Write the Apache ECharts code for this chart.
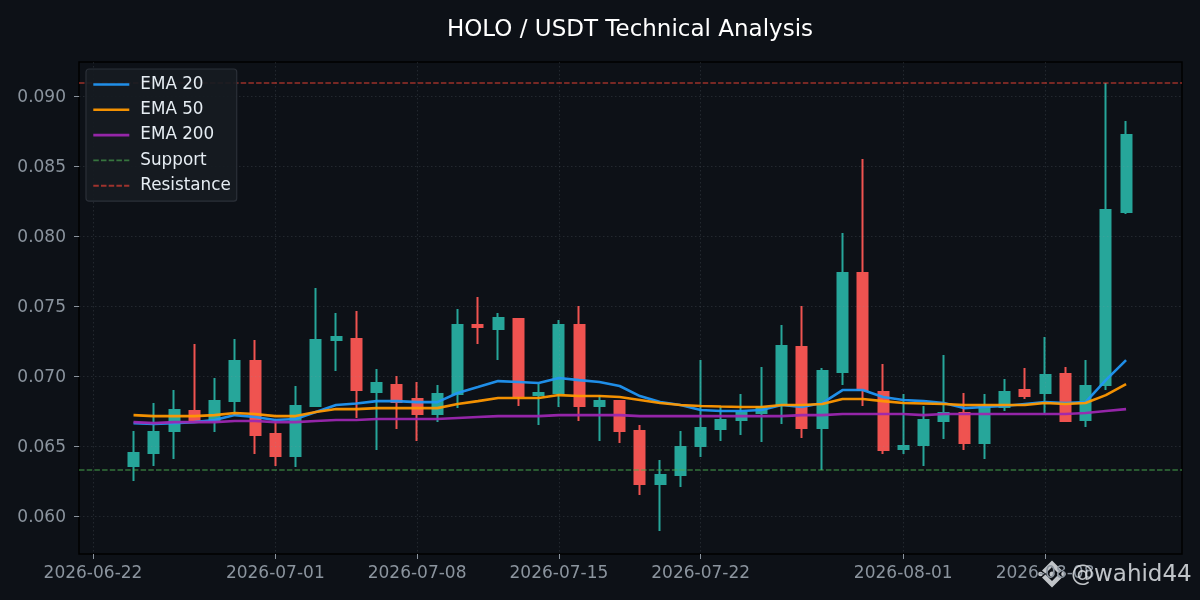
<!DOCTYPE html>
<html><head><meta charset="utf-8">
<style>html,body{margin:0;padding:0;background:#0d1117}#c{width:1200px;height:600px}</style>
<script src="https://cdn.jsdelivr.net/npm/echarts@6/dist/echarts.min.js"></script>
</head><body><div id="c"></div>
<script>
const dates = ['2026-06-24','2026-06-25','2026-06-26','2026-06-27','2026-06-28','2026-06-29','2026-06-30','2026-07-01','2026-07-02','2026-07-03',
'2026-07-04','2026-07-05','2026-07-06','2026-07-07','2026-07-08','2026-07-09','2026-07-10','2026-07-11','2026-07-12','2026-07-13',
'2026-07-14','2026-07-15','2026-07-16','2026-07-17','2026-07-18','2026-07-19','2026-07-20','2026-07-21','2026-07-22','2026-07-23',
'2026-07-24','2026-07-25','2026-07-26','2026-07-27','2026-07-28','2026-07-29','2026-07-30','2026-07-31','2026-08-01','2026-08-02',
'2026-08-03','2026-08-04','2026-08-05','2026-08-06','2026-08-07','2026-08-08','2026-08-09','2026-08-10','2026-08-11','2026-08-12'];
const open = [.06357,.06450,.06607,.06750,.06679,.06821,.07107,.06586,.06429,.06786,
.07257,.07264,.06886,.06936,.06836,.06729,.06871,.07364,.07336,.07407,
.06864,.06879,.07364,.06786,.06821,.06607,.06229,.06293,.06500,.06621,
.06686,.06736,.06793,.07207,.06629,.07029,.07736,.06886,.06479,.06507,
.06679,.06736,.06521,.06779,.06900,.06879,.07014,.06686,.06936,.08171];
const close = [.06450,.06600,.06757,.06671,.06821,.07107,.06579,.06429,.06786,.07257,
.07279,.06900,.06950,.06814,.06729,.06871,.07364,.07350,.07414,.06857,
.06879,.07364,.06786,.06821,.06607,.06229,.06293,.06493,.06629,.06686,
.06736,.06779,.07214,.06629,.07036,.07736,.06900,.06471,.06500,.06686,
.06736,.06521,.06779,.06886,.06857,.07007,.06679,.06929,.08186,.08721];
const low = [.06250,.06357,.06407,.06664,.06600,.06721,.06443,.06357,.06350,.06779,
.07036,.06700,.06471,.06621,.06536,.06671,.06771,.07229,.07114,.06786,
.06650,.06779,.06679,.06536,.06521,.06150,.05893,.06207,.06421,.06536,
.06579,.06529,.06657,.06557,.06329,.06936,.06786,.06443,.06443,.06357,
.06550,.06471,.06407,.06750,.06836,.06736,.06671,.06636,.06900,.08157];
const high = [.06607,.06807,.06900,.07229,.06986,.07264,.07257,.06686,.06929,.07629,
.07450,.07464,.07050,.07000,.06957,.06936,.07479,.07564,.07450,.07407,
.06943,.07400,.07500,.06864,.06829,.06650,.06400,.06607,.07114,.06779,
.06871,.07064,.07364,.07500,.07057,.08021,.08550,.07086,.06871,.06786,
.07150,.06879,.06871,.06979,.07057,.07279,.07064,.07114,.09093,.08821];
const ema20 = [.06664,.06657,.06664,.06671,.06686,.06721,.06707,.06686,.06693,.06743,
.06793,.06804,.06821,.06821,.06814,.06814,.06879,.06921,.06964,.06957,
.06950,.06986,.06971,.06957,.06929,.06857,.06814,.06793,.06757,.06750,
.06750,.06757,.06793,.06779,.06807,.06900,.06900,.06850,.06829,.06821,
.06807,.06771,.06779,.06786,.06800,.06814,.06807,.06814,.06971,.07114];
const ema50 = [.06721,.06714,.06714,.06714,.06721,.06736,.06729,.06714,.06714,.06743,
.06764,.06764,.06771,.06771,.06771,.06771,.06800,.06821,.06843,.06843,
.06843,.06864,.06857,.06857,.06850,.06829,.06807,.06793,.06786,.06782,
.06779,.06779,.06793,.06793,.06800,.06836,.06836,.06821,.06807,.06804,
.06800,.06793,.06793,.06793,.06793,.06807,.06800,.06807,.06864,.06943];
const ema200 = [.06671,.06664,.06671,.06671,.06671,.06679,.06679,.06671,.06671,.06679,
.06686,.06686,.06693,.06693,.06693,.06693,.06700,.06707,.06714,.06714,
.06714,.06721,.06721,.06721,.06721,.06714,.06714,.06714,.06714,.06714,
.06714,.06714,.06714,.06721,.06721,.06729,.06729,.06729,.06729,.06721,
.06729,.06729,.06729,.06729,.06729,.06729,.06729,.06736,.06750,.06764];
const supportLevel = 0.06329;
const resistanceLevel = 0.09093;
const xTickDates = ['2026-06-22','2026-07-01','2026-07-08','2026-07-15','2026-07-22','2026-08-01','2026-08-08'];
const yTicks = [0.06,0.065,0.07,0.075,0.08,0.085,0.09];
const yMin = 0.05729, yMax = 0.09243;
const xMinDate = '2026-06-21T07:25:00Z', xMaxDate = '2026-08-14T18:15:00Z';

const ts = s => new Date(s.length > 10 ? s : s + 'T00:00:00Z').getTime();
const xMin = ts(xMinDate), xMax = ts(xMaxDate);
const pair = a => a.map((v,i) => [ts(dates[i]), v]);
const labelCol = '#8b949e';
const FONT = '"DejaVu Sans"';
const wm = 'rgba(225,228,232,0.85)';

const lineSeries = (name, arr, color) => ({
  name, type:'line', data:pair(arr), showSymbol:false, symbol:'none', z:5, clip:true,
  lineStyle:{color, width:2.6, opacity:.95}, itemStyle:{color}, silent:true
});
const levelSeries = (name, v, color) => ({
  name, type:'line', data:[[xMin,v],[xMax,v]], showSymbol:false, symbol:'none', z:4,
  lineStyle:{color, width:1.5, type:[5.5,2.2]}, itemStyle:{color}, silent:true
});

const chart = echarts.init(document.getElementById('c'), null, {renderer:'canvas', width:1200, height:600});
chart.setOption({
  animation:false, backgroundColor:'#0d1117',
  textStyle:{fontFamily:FONT},
  title:{text:'HOLO / USDT Technical Analysis', left:625, top:14, textAlign:'center',
    textStyle:{color:'#ffffff', fontSize:23, fontWeight:'normal', fontFamily:FONT}},
  grid:{left:79, right:18, top:62, bottom:46, show:true, backgroundColor:'#0d1117', borderColor:'#000', borderWidth:1.5},
  legend:{
    left:86, top:69, orient:'vertical', padding:[7,6,7,6], itemWidth:36, itemHeight:17, itemGap:8.3,
    backgroundColor:'rgba(22,27,34,0.92)', borderColor:'#2b3038', borderWidth:1.2, borderRadius:3,
    selectedMode:false, z:20,
    itemStyle:{color:'transparent', borderColor:'transparent', borderWidth:0, opacity:0},
    textStyle:{color:'#e6edf3', fontSize:16.8, fontFamily:FONT, padding:[0,0,0,6]},
    data:[{name:'EMA 20',lineStyle:{width:2.6}},{name:'EMA 50',lineStyle:{width:2.6}},{name:'EMA 200',lineStyle:{width:2.6}},
      {name:'Support',lineStyle:{width:1.9}},{name:'Resistance',lineStyle:{width:1.9}}]
  },
  xAxis:{type:'value', min:xMin, max:xMax, z:3, scale:true,
    axisLine:{show:false},
    axisTick:{show:true, length:5, customValues:xTickDates.map(ts), lineStyle:{color:labelCol, width:1}},
    axisLabel:{color:labelCol, fontSize:17, fontFamily:FONT, margin:11, customValues:xTickDates.map(ts), hideOverlap:false,
      formatter:v => new Date(v).toISOString().slice(0,10)},
    splitLine:{show:true, lineStyle:{color:'rgba(139,148,158,0.18)', width:1, type:[1.5,2.5]}}
  },
  yAxis:{type:'value', min:yMin, max:yMax, scale:true, z:3,
    axisLine:{show:false},
    axisTick:{show:true, length:5, customValues:yTicks, lineStyle:{color:labelCol, width:1}},
    axisLabel:{color:labelCol, fontFamily:FONT, margin:13, customValues:yTicks,
      formatter:v => '{t|' + v.toFixed(3) + '}',
      rich:{t:{color:labelCol, fontSize:17, fontFamily:FONT, padding:[3,0,0,0]}}},
    splitLine:{show:true, lineStyle:{color:'rgba(139,148,158,0.18)', width:1, type:[1.5,2.5]}}
  },
  series:[
    {type:'candlestick', name:'OHLC', z:2, barWidth:10.5,
     encode:{x:0,y:[1,2,3,4]},
     data:dates.map((d,i)=>[ts(d),open[i],close[i],low[i],high[i]]),
     itemStyle:{color:'#26a69a', color0:'#ef5350', borderColor:'#26a69a', borderColor0:'#ef5350', borderWidth:2}, silent:true},
    lineSeries('EMA 20', ema20, '#2196f3'),
    lineSeries('EMA 50', ema50, '#ff9800'),
    lineSeries('EMA 200', ema200, '#9c27b0'),
    levelSeries('Support', supportLevel, 'rgba(76,175,80,0.62)'),
    levelSeries('Resistance', resistanceLevel, 'rgba(244,67,54,0.62)')
  ],
  graphic:[
    {type:'text', x:1071, y:564, z:50, style:{text:'@wahid44', fill:wm, font:'23px "DejaVu Sans"'}},
    {type:'group', x:1052, y:574, z:50, children:[
      {type:'polygon', shape:{points:[[0,-13.5],[10,-3.5],[6.5,-0.5],[0,-7],[-6.5,-0.5],[-10,-3.5]]}, style:{fill:wm}},
      {type:'polygon', shape:{points:[[0,13.5],[10,3.5],[6.5,0.5],[0,7],[-6.5,0.5],[-10,3.5]]}, style:{fill:wm}},
      {type:'circle', shape:{cx:0,cy:0,r:2.5}, style:{fill:wm}},
      {type:'circle', shape:{cx:-11.5,cy:0,r:2.3}, style:{fill:wm}},
      {type:'circle', shape:{cx:11.5,cy:0,r:2.3}, style:{fill:wm}}
    ]}
  ]
});
</script></body></html>
